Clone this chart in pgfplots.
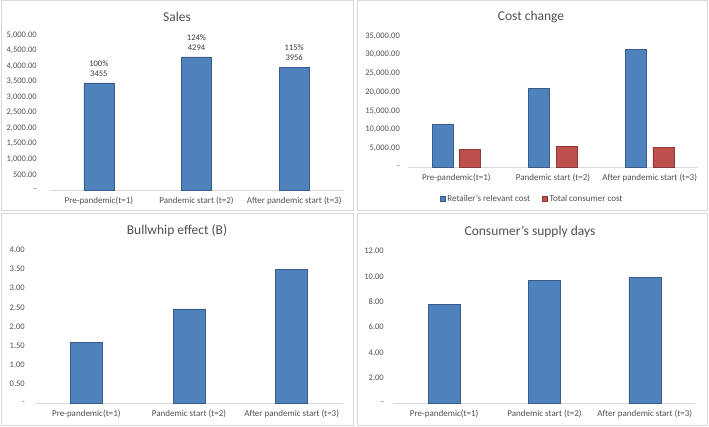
\documentclass[border=0pt]{standalone}
\usepackage{fontspec}
\setmainfont{Carlito}
\usepackage{pgfplots}
\pgfplotsset{compat=1.18}
\definecolor{barblue}{HTML}{4F81BD}
\definecolor{blueedge}{HTML}{385D8A}
\definecolor{barred}{HTML}{C0504D}
\definecolor{rededge}{HTML}{8C3836}
\definecolor{linegray}{HTML}{D9D9D9}
\definecolor{labgray}{HTML}{505050}
\definecolor{titlegray}{HTML}{505050}
\definecolor{framegray}{HTML}{D9D9D9}
\pgfplotsset{
  panel/.style={
    scale only axis,
    axis x line*=bottom, axis y line*=left,
    x axis line style={draw=linegray, line width=0.8pt, -},
    y axis line style={draw=none},
    major tick length=0pt,
    tick style={draw=none},
    scaled y ticks=false,
    xmin=-0.5, xmax=2.5,
    xtick={0,1,2},
    xticklabels={Pre-pandemic(t=1), Pandemic start (t=2), After pandemic start (t=3)},
    ymin=0,
    tick label style={font=\fontsize{8.5}{10}\selectfont, text=labgray},
    xticklabel style={font=\fontsize{9}{10}\selectfont, inner sep=0pt, anchor=center, yshift=-11pt},
    yticklabel style={anchor=east, inner sep=0pt},
    clip=false,
  },
  bluebar/.style={fill=barblue, draw=blueedge, line width=0.6pt},
  redbar/.style={fill=barred, draw=rededge, line width=0.6pt},
}
\begin{document}
\begin{tikzpicture}[x=1pt,y=1pt]
\fill[white] (0,0) rectangle (709,426);
\draw[framegray, line width=1pt] (1,215) rectangle (353,425);
\draw[framegray, line width=1pt] (357,215) rectangle (707,425);
\draw[framegray, line width=1pt] (1,1) rectangle (353,212);
\draw[framegray, line width=1pt] (357,1) rectangle (707,212);

% Panel 1: Sales
\begin{axis}[panel,
  at={(50pt,236pt)}, anchor=south west,
  width=293pt, height=155pt,
  ymax=5000,
  ytick={0,500,1000,1500,2000,2500,3000,3500,4000,4500,5000},
  yticklabels={-,500.00,{1,000.00},{1,500.00},{2,000.00},{2,500.00},{3,000.00},{3,500.00},{4,000.00},{4,500.00},{5,000.00}},
  yticklabel style={xshift=-13pt},
  ybar, bar width=30pt,
  nodes near coords, point meta=explicit symbolic,
  every node near coord/.append style={font=\fontsize{8.5}{10}\selectfont, text=black!78, align=center, anchor=south, inner sep=1pt, yshift=5pt},
]
\addplot[bluebar] coordinates {(0,3455) [100\%\\3455] (1,4294) [124\%\\4294] (2,3956) [115\%\\3956]};
\end{axis}

% Panel 2: Cost change
\begin{axis}[panel,
  at={(408pt,259pt)}, anchor=south west,
  width=290pt, height=131pt,
  ymax=35000,
  ytick={0,5000,10000,15000,20000,25000,30000,35000},
  yticklabels={-,{5,000.00},{10,000.00},{15,000.00},{20,000.00},{25,000.00},{30,000.00},{35,000.00}},
  yticklabel style={xshift=-8pt},
  ybar=6.5pt, bar width=21pt,
  legend style={draw=none, fill=none, legend columns=2, font=\fontsize{9}{10}\selectfont, text=labgray,
    at={(0.428,-0.244)}, anchor=center,
    /tikz/every even column/.append style={column sep=10pt}},
  legend image code/.code={\draw[#1] (0pt,-2.5pt) rectangle (5pt,2.5pt);},
]
\addplot[bluebar] coordinates {(0,11300) (1,21000) (2,31500)};
\addplot[redbar] coordinates {(0,4750) (1,5600) (2,5300)};
\legend{Retailer's relevant cost, Total consumer cost}
\end{axis}

% Panel 3: Bullwhip effect
\begin{axis}[panel,
  at={(35pt,23pt)}, anchor=south west,
  width=308pt, height=153pt,
  ymax=4,
  ytick={0,0.5,1,1.5,2,2.5,3,3.5,4},
  yticklabels={-,0.50,1.00,1.50,2.00,2.50,3.00,3.50,4.00},
  yticklabel style={xshift=-10pt},
  ybar, bar width=32pt,
]
\addplot[bluebar] coordinates {(0,1.59) (1,2.46) (2,3.50)};
\end{axis}

% Panel 4: Consumer's supply days
\begin{axis}[panel,
  at={(394pt,23pt)}, anchor=south west,
  width=301pt, height=152pt,
  ymax=12,
  ytick={0,2,4,6,8,10,12},
  yticklabels={-,2.00,4.00,6.00,8.00,10.00,12.00},
  yticklabel style={xshift=-10pt},
  ybar, bar width=32pt,
]
\addplot[bluebar] coordinates {(0,7.77) (1,9.70) (2,9.93)};
\end{axis}

\node[font=\fontsize{13.5}{15}\selectfont, text=titlegray] at (177,409) {Sales};
\node[font=\fontsize{13.5}{15}\selectfont, text=titlegray] at (531,409) {Cost change};
\node[font=\fontsize{13.5}{15}\selectfont, text=titlegray] at (177,195) {Bullwhip effect (B)};
\node[font=\fontsize{13.5}{15}\selectfont, text=titlegray] at (530,194) {Consumer's supply days};

\pgfresetboundingbox
\path[use as bounding box] (0,0) rectangle (709,426);
\end{tikzpicture}
\end{document}
